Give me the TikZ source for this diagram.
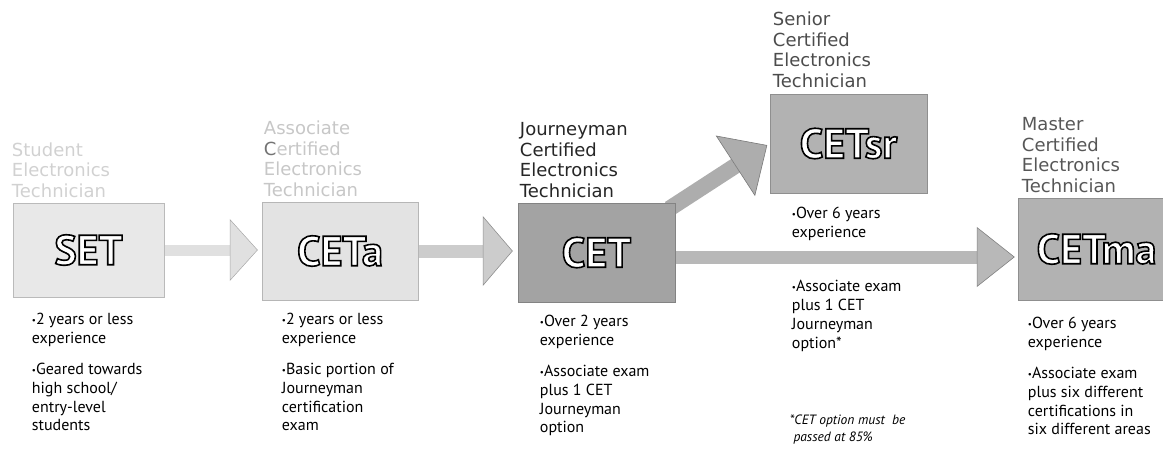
\documentclass[tikz,border=0pt]{standalone}
\usepackage{fontspec}
\setmainfont{PT Sans}
\newfontfamily\titlefont{DejaVu Sans}
\usetikzlibrary{arrows.meta,backgrounds}

\definecolor{setfill}{gray}{0.91}
\definecolor{cetafill}{gray}{0.89}
\definecolor{cetfill}{gray}{0.64}
\definecolor{srfill}{gray}{0.70}
\definecolor{mafill}{gray}{0.70}
\definecolor{setarrow}{gray}{0.88}
\definecolor{cetaarrow}{gray}{0.80}
\definecolor{srarrow}{gray}{0.68}
\definecolor{maarrow}{gray}{0.72}
\definecolor{settitle}{gray}{0.82}
\definecolor{cetatitle}{gray}{0.78}
\definecolor{cettitle}{gray}{0.15}
\definecolor{srtitle}{gray}{0.30}
\definecolor{matitle}{gray}{0.34}

\newcommand{\bul}{\raisebox{1pt}{\fontsize{9}{9}\selectfont\textbullet}}
% white letters with a black rim (fill, then stroke)
\newcommand{\hollow}[1]{\special{pdf:literal direct 2 Tr 1.6 w 0 G}#1\special{pdf:literal direct 0 Tr}}

\begin{document}
\begin{tikzpicture}[x=1pt,y=-1pt,
  box/.style={fill=#1, draw=#1!80!black, line width=0.5pt,
    minimum width=157pt, minimum height=99pt, inner sep=0pt},
  heading/.style={font=\titlefont\fontsize{18}{20.5}\selectfont,
    align=left, anchor=south west, inner sep=0pt},
  notes/.style={font=\fontsize{16}{18.8}\selectfont,
    align=left, anchor=north west, inner sep=0pt},
  badge/.style={font=\bfseries\fontsize{42}{42}\selectfont, text=white, inner sep=0pt}]
 \useasboundingbox (0,0) rectangle (1163,452);

 % levels
 \node[box=setfill, minimum width=151pt, minimum height=94pt] (set) at (88.5,250) {};
 \node[box=cetafill, minimum width=156pt, minimum height=98pt] (ceta) at (340,251) {};
 \node[box=cetfill] (cet) at (596.5,252.5) {};
 \node[box=srfill] (cetsr) at (848.5,143.5) {};
 \node[box=mafill, minimum height=102pt] (cetma) at (1096.5,249) {};

 \foreach \b/\t in {set/SET,ceta/CETa,cet/CET,cetsr/CETsr,cetma/CETma}
    \node[badge] (\b-badge) at (\b.center) {\hollow{\t}};

 % titles
 \node[heading, text=settitle] (set-title) at ([xshift=-1pt,yshift=5pt]set.north west)
    {Student\\Electronics\\Technician};
 \node[heading, text=cetatitle] (ceta-title) at ([xshift=2pt,yshift=5pt]ceta.north west)
    {Associate\\\textcolor{black!55}{C}ertified\\Electronics\\Technician};
 \node[heading, text=cettitle] (cet-title) at ([xshift=2pt,yshift=5pt]cet.north west)
    {Journeyman\\Certified\\Electronics\\Technician};
 \node[heading, text=srtitle] (cetsr-title) at ([xshift=3pt,yshift=6pt]cetsr.north west)
    {Senior\\Certified\\Electronics\\Technician};
 \node[heading, text=matitle] (cetma-title) at ([xshift=4pt,yshift=5pt]cetma.north west)
    {Master\\Certified\\Electronics\\Technician};

 % requirements
 \node[notes] (set-notes) at ([xshift=19pt,yshift=-16pt]set.south west)
    {\bul2 years or less\\experience\\[12pt]\bul Geared towards\\high school/\\entry-level\\students};
 \node[notes] (ceta-notes) at ([xshift=20pt,yshift=-13pt]ceta.south west)
    {\bul2 years or less\\experience\\[12pt]\bul Basic portion of\\Journeyman\\certification\\exam};
 \node[notes] (cet-notes) at ([xshift=22pt,yshift=-13pt]cet.south west)
    {\bul Over 2 years\\experience\\[12pt]\bul Associate exam\\plus 1 CET\\Journeyman\\option};
 \node[notes] (cetsr-notes) at ([xshift=22pt,yshift=-14pt]cetsr.south west)
    {\bul Over 6 years\\experience};
 \node[notes] (cetsr-exam) at ([xshift=22pt,yshift=-87pt]cetsr.south west)
    {\bul Associate exam\\plus 1 CET\\Journeyman\\option*};
 \node[notes, font=\itshape\fontsize{13.5}{17}\selectfont] (cetsr-foot)
    at ([xshift=20pt,yshift=-221pt]cetsr.south west)
    {*CET option must\ \ be\\\ passed at 85\%};
 \node[notes] (cetma-notes) at ([xshift=10pt,yshift=-17pt]cetma.south west)
    {\bul Over 6 years\\experience\\[12pt]\bul Associate exam\\plus six different\\certifications in\\six different areas};

 % paths
 \coordinate (fork) at ([yshift=-4.5pt]cet.east);
 \coordinate (branch) at ([xshift=-6pt,yshift=-6pt]cet.north east);
 \begin{pgfonlayer}{background}
  \draw[line width=11pt, setarrow, shorten >=4pt,
        -{Triangle[length=28pt,width=62pt,fill=setarrow,color=setarrow!75!black,line width=0.5pt]}]
        (set.east) -- (set.east -| ceta.west);
  \draw[line width=13pt, cetaarrow, shorten >=5pt,
        -{Triangle[length=30pt,width=70pt,fill=cetaarrow,color=cetaarrow!70!black,line width=0.6pt]}]
        (ceta.east) -- (ceta.east -| cet.west);
  \draw[line width=16pt, srarrow, shorten >=3pt,
        -{Triangle[length=38pt,width=72pt,fill=srarrow,color=srarrow!70!black,line width=0.6pt]}]
        (branch) -- (cetsr.west);
  \draw[line width=13pt, maarrow, shorten >=3pt,
        -{Triangle[length=38pt,width=60pt,fill=maarrow,color=maarrow!70!black,line width=0.6pt]}]
        (fork) -- (fork -| cetma.west);
 \end{pgfonlayer}
\end{tikzpicture}
\end{document}
